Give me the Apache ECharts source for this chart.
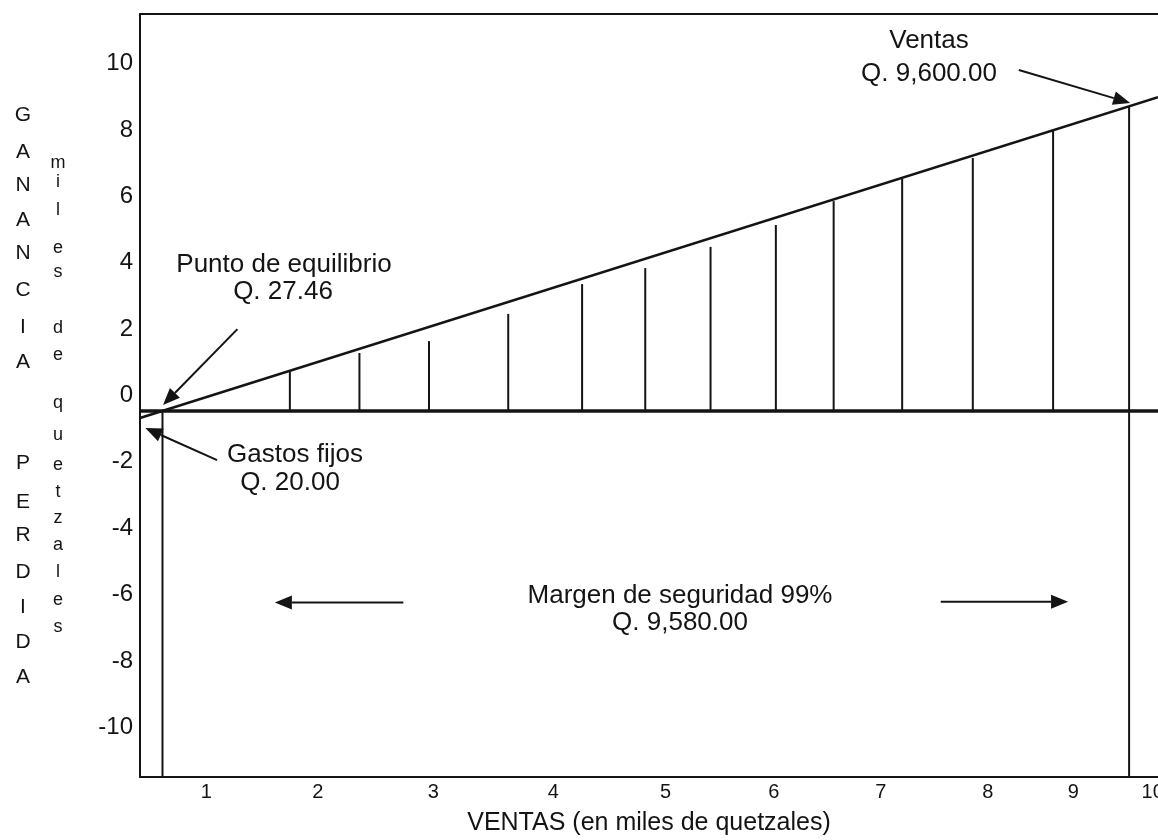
<!DOCTYPE html>
<html>
<head>
<meta charset="utf-8">
<script src="https://cdn.jsdelivr.net/npm/echarts@6/dist/echarts.min.js"></script>
<style>
  html, body { margin: 0; padding: 0; background: #fff; overflow: hidden; }
  #chart { width: 1158px; height: 840px; }
</style>
</head>
<body>
<div id="chart"></div>
<script>
// ---------- data (x in miles de quetzales, y in miles de quetzales) ----------
const xTickValues = [0.84, 1.88, 2.96, 4.08, 5.13, 6.14, 7.14, 8.14, 8.94, 9.68];
const xTickLabels = ['1', '2', '3', '4', '5', '6', '7', '8', '9', '10'];
const yTickValues = [-10, -8, -6, -4, -2, 0, 2, 4, 6, 8, 10];
const yTickLabels = ['-10', '-8', '-6', '-4', '-2', '0', '2', '4', '6', '8', '10'];

// profit (ganancia) line, start and end
const profitX = [0.22, 9.73];
const profitY = [-0.68, 8.99];

// level of the heavy horizontal (break-even) line
const baseLevel = -0.47;

// vertical lines from the base line up to the profit line
const dropX   = [1.62, 2.27, 2.92, 3.66, 4.35, 4.94, 5.55, 6.16, 6.70, 7.34, 8.00, 8.75];
const dropTop = [0.71, 1.28, 1.64, 2.46, 3.36, 3.84, 4.48, 5.14, 5.86, 6.53, 7.16, 8.00];

// long vertical lines (gastos fijos / ventas)
const edgeX      = [0.43, 9.46];
const edgeBottom = [-11.5, -11.5];
const edgeTop    = [-0.47, 8.73];

// annotation arrows: from (x1,y1) to tip (x2,y2)
const arrowFromX = [1.13, 0.94, 8.43, 2.68, 7.70];
const arrowFromY = [2.00, -1.95, 9.81, -6.24, -6.22];
const arrowToX   = [0.435, 0.27, 9.47, 1.48, 8.89];
const arrowToY   = [-0.29, -0.98, 8.82, -6.24, -6.22];

// texts
const annTexts = ['Ventas', 'Q. 9,600.00', 'Punto de equilibrio', 'Q. 27.46',
                  'Gastos fijos', 'Q. 20.00', 'Margen de seguridad 99%', 'Q. 9,580.00'];
const gananciaLetters = ['G', 'A', 'N', 'A', 'N', 'C', 'I', 'A'];
const perdidaLetters = ['P', 'E', 'R', 'D', 'I', 'D', 'A'];
const unitLetters = ['m', 'i', 'l', 'e', 's', 'd', 'e', 'q', 'u', 'e', 't', 'z', 'a', 'l', 'e', 's'];
const xTitle = 'VENTAS (en miles de quetzales)';

// ---------- layout ----------
const FONT = '"Liberation Sans", Arial, Helvetica, sans-serif';
const INK = '#141414';

const annPos = [
  [929, 41], [929, 74], [284, 265], [283, 292],
  [295, 455], [290, 483], [680, 596], [680, 623]
];
const gananciaY = [115, 152, 185, 220, 253, 290, 327, 362];
const perdidaY = [463, 502, 535, 572, 607, 642, 677];
const unitY = [163, 182, 210, 248, 272, 328, 355, 403, 435, 465, 492, 518, 545, 572, 600, 627];

const graphics = [];
annTexts.forEach((t, i) => {
  graphics.push({
    type: 'text', x: annPos[i][0], y: annPos[i][1], z: 100,
    style: { text: t, fontSize: 26, fontFamily: FONT, fill: INK, align: 'center', verticalAlign: 'middle' }
  });
});
gananciaLetters.forEach((t, i) => {
  graphics.push({ type: 'text', x: 23, y: gananciaY[i],
    style: { text: t, fontSize: 21, fontFamily: FONT, fill: INK, align: 'center', verticalAlign: 'middle' } });
});
perdidaLetters.forEach((t, i) => {
  graphics.push({ type: 'text', x: 23, y: perdidaY[i],
    style: { text: t, fontSize: 21, fontFamily: FONT, fill: INK, align: 'center', verticalAlign: 'middle' } });
});
unitLetters.forEach((t, i) => {
  graphics.push({ type: 'text', x: 58, y: unitY[i],
    style: { text: t, fontSize: 18, fontFamily: FONT, fill: INK, align: 'center', verticalAlign: 'middle' } });
});

const chart = echarts.init(document.getElementById('chart'), null, { renderer: 'canvas' });

const dropData = dropX.map((x, i) => [x, baseLevel, dropTop[i]]);
const edgeData = edgeX.map((x, i) => [x, edgeBottom[i], edgeTop[i]]);
const arrowData = arrowFromX.map((x, i) => [x, arrowFromY[i], arrowToX[i], arrowToY[i]]);

function renderVLine(params, api) {
  const p1 = api.coord([api.value(0), api.value(1)]);
  const p2 = api.coord([api.value(0), api.value(2)]);
  return {
    type: 'line',
    shape: { x1: p1[0], y1: p1[1], x2: p2[0], y2: p2[1] },
    style: { stroke: INK, lineWidth: 2 }
  };
}

function renderArrow(params, api) {
  const p1 = api.coord([api.value(0), api.value(1)]);
  const p2 = api.coord([api.value(2), api.value(3)]);
  const dx = p2[0] - p1[0], dy = p2[1] - p1[1];
  const len = Math.sqrt(dx * dx + dy * dy);
  const ux = dx / len, uy = dy / len;
  const headL = 17, headW = 7;
  const bx = p2[0] - ux * headL, by = p2[1] - uy * headL;
  return {
    type: 'group',
    children: [
      { type: 'line', shape: { x1: p1[0], y1: p1[1], x2: bx, y2: by },
        style: { stroke: INK, lineWidth: 2 } },
      { type: 'polygon', shape: { points: [
          [p2[0], p2[1]],
          [bx - uy * headW, by + ux * headW],
          [bx + uy * headW, by - ux * headW]
        ] }, style: { fill: INK } }
    ]
  };
}

const option = {
  backgroundColor: '#ffffff',
  animation: false,
  grid: {
    left: 140, right: 0, top: 14, bottom: 63,
    show: false, outerBoundsMode: 'none', containLabel: false
  },
  xAxis: [{
    type: 'value', min: 0.22, max: 9.73, position: 'bottom',
    name: xTitle, nameLocation: 'middle', nameGap: 34,
    nameTextStyle: { fontSize: 25, fontFamily: FONT, color: INK },
    axisLine: { show: true, onZero: false, lineStyle: { color: INK, width: 2 } },
    axisTick: { show: false }, splitLine: { show: false },
    axisLabel: {
      customValues: xTickValues,
      fontSize: 20, fontFamily: FONT, color: INK, margin: 5,
      formatter: function (v) {
        const i = xTickValues.findIndex(t => Math.abs(t - v) < 1e-6);
        return i >= 0 ? xTickLabels[i] : '';
      }
    }
  }, {
    type: 'value', min: 0.22, max: 9.73, position: 'top',
    axisLine: { show: true, onZero: false, lineStyle: { color: INK, width: 2 } },
    axisTick: { show: false }, splitLine: { show: false }, axisLabel: { show: false }
  }],
  yAxis: {
    type: 'value', min: -11.5, max: 11.5,
    axisLine: { show: true, onZero: false, lineStyle: { color: INK, width: 2 } },
    axisTick: { show: false }, splitLine: { show: false },
    axisLabel: {
      customValues: yTickValues,
      fontSize: 24, fontFamily: FONT, color: INK, margin: 7,
      formatter: function (v) {
        const i = yTickValues.findIndex(t => Math.abs(t - v) < 1e-6);
        return i >= 0 ? yTickLabels[i] : '';
      }
    }
  },
  graphic: graphics,
  series: [
    {
      name: 'base', type: 'line', symbol: 'none', silent: true,
      data: [[profitX[0], baseLevel], [profitX[1], baseLevel]],
      lineStyle: { color: INK, width: 3.5 }, z: 5
    },
    {
      name: 'ganancia', type: 'line', symbol: 'none', silent: true,
      data: profitX.map((x, i) => [x, profitY[i]]),
      lineStyle: { color: INK, width: 2.5 }, z: 5
    },
    {
      name: 'drops', type: 'custom', renderItem: renderVLine, clip: false,
      data: dropData, encode: { x: 0, y: [1, 2] }, z: 4
    },
    {
      name: 'edges', type: 'custom', renderItem: renderVLine, clip: false,
      data: edgeData, encode: { x: 0, y: [1, 2] }, z: 4
    },
    {
      name: 'arrows', type: 'custom', renderItem: renderArrow, clip: false,
      data: arrowData, encode: { x: [0, 2], y: [1, 3] }, z: 6
    }
  ]
};

chart.setOption(option);
</script>
</body>
</html>
